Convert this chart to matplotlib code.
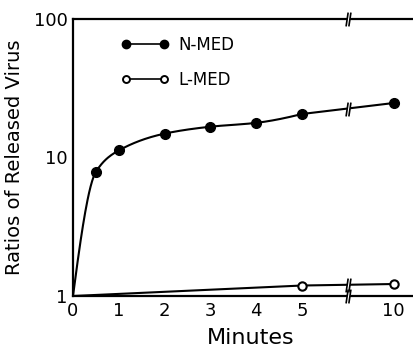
import numpy as np
import matplotlib
matplotlib.use('Agg')
import matplotlib.pyplot as plt
from matplotlib.path import Path
from matplotlib.lines import Line2D
from matplotlib.legend_handler import HandlerLine2D

# ---- data ----
nmed_minutes = [0.5, 1, 2, 3, 4, 5, 10]
nmed_values = [7.85, 11.2, 14.8, 16.6, 17.7, 20.5, 24.6]
lmed_minutes = [5, 10]
lmed_values = [1.19, 1.22]
start_minute = 0
start_value = 1
xtick_minutes = [0, 1, 2, 3, 4, 5, 10]
xtick_labels = ['0', '1', '2', '3', '4', '5', '10']
ytick_values = [1, 10, 100]
ytick_labels = ['1', '10', '100']
break_minute = 7.5  # axis break between 5 and 10 min


def pos(m):
    """Map minutes onto the broken x axis (5 -> 10 compressed to 2 units)."""
    m = np.asarray(m, dtype=float)
    return np.where(m <= 5, m, 5 + (m - 5) * 2 / 5)


def pchip(x, y, xn):
    x = np.asarray(x, float); y = np.asarray(y, float)
    h = np.diff(x); d = np.diff(y) / h
    n = len(x); m = np.zeros(n)
    for k in range(1, n - 1):
        if d[k - 1] * d[k] <= 0:
            m[k] = 0
        else:
            w1 = 2 * h[k] + h[k - 1]; w2 = h[k] + 2 * h[k - 1]
            m[k] = (w1 + w2) / (w1 / d[k - 1] + w2 / d[k])
    def end(h0, h1, d0, d1):
        v = ((2 * h0 + h1) * d0 - h0 * d1) / (h0 + h1)
        if np.sign(v) != np.sign(d0):
            v = 0
        elif np.sign(d0) != np.sign(d1) and abs(v) > abs(3 * d0):
            v = 3 * d0
        return v
    m[0] = end(h[0], h[1], d[0], d[1])
    m[-1] = end(h[-1], h[-2], d[-1], d[-2])
    out = np.empty_like(xn)
    for i, xv in enumerate(xn):
        k = min(np.searchsorted(x, xv, side='right') - 1, n - 2)
        k = max(k, 0)
        t = (xv - x[k]) / h[k]
        h00 = 2 * t**3 - 3 * t**2 + 1; h10 = t**3 - 2 * t**2 + t
        h01 = -2 * t**3 + 3 * t**2; h11 = t**3 - t**2
        out[i] = h00 * y[k] + h10 * h[k] * m[k] + h01 * y[k + 1] + h11 * h[k] * m[k + 1]
    return out


fig = plt.figure(figsize=(4.13, 3.56), dpi=100)
ax = fig.add_axes([73 / 413, 1 - 296 / 356, 1 - 73 / 413 + 0.002, (296 - 18.5) / 356])
ax.set_yscale('log')
ax.set_ylim(1, 100)
ax.set_xlim(0, (413 - 73) / 45.7)

lw = 1.5
# N-MED smooth curve 0..5 then straight to 10
xs = [start_minute] + [m for m in nmed_minutes if m <= 5]
ys = [start_value] + [v for m, v in zip(nmed_minutes, nmed_values) if m <= 5]
xf = np.linspace(xs[0], xs[-1], 300)
yf = 10 ** pchip(xs, np.log10(ys), xf)
xf = np.append(xf, pos(nmed_minutes[-1]))
yf = np.append(yf, nmed_values[-1])
ax.plot(xf, yf, color='black', lw=lw, zorder=3)
ax.plot(pos(nmed_minutes), nmed_values, 'o', color='black', ms=7, zorder=4)

# L-MED
lx = [start_minute] + lmed_minutes
ly = [start_value] + lmed_values
ax.plot(pos(lx), ly, color='black', lw=lw, zorder=3)
ax.plot(pos(lmed_minutes), lmed_values, 'o', mfc='white', mec='black', mew=1.5, ms=6, zorder=4)

# break marks
bx = float(pos(break_minute))
def interp_log(x0, y0, x1, y1, x):
    return 10 ** (np.log10(y0) + (np.log10(y1) - np.log10(y0)) * (x - x0) / (x1 - x0))
yb_n = interp_log(pos(5), nmed_values[-2], pos(10), nmed_values[-1], bx)
yb_l = interp_log(pos(5), lmed_values[0], pos(10), lmed_values[1], bx)
brk = Path([(-0.35, -1), (-0.05, 1), (0.05, -1), (0.35, 1)],
           [Path.MOVETO, Path.LINETO, Path.MOVETO, Path.LINETO])
gap = Path([(-0.3, -0.6), (0.02, -0.6), (0.3, 0.6), (-0.02, 0.6), (-0.3, -0.6)],
           [Path.MOVETO, Path.LINETO, Path.LINETO, Path.LINETO, Path.CLOSEPOLY])
for yb in [yb_n, yb_l, 100, 1]:
    ax.plot([bx], [yb], marker=gap, ms=8, mfc='white', mec='none', ls='none',
            clip_on=False, zorder=6)
    ax.plot([bx], [yb], marker=brk, ms=10, mec='black', mew=1.2, mfc='none', ls='none',
            clip_on=False, zorder=7)

# axes styling
for s in ['left', 'bottom', 'top']:
    ax.spines[s].set_linewidth(1.6)
ax.spines['right'].set_visible(False)
ax.set_xticks(pos(xtick_minutes))
ax.set_xticklabels(xtick_labels, fontsize=13)
ax.set_yticks(ytick_values)
ax.set_yticklabels(ytick_labels, fontsize=13)
ax.yaxis.set_minor_locator(matplotlib.ticker.NullLocator())
ax.tick_params(length=0, pad=4)
ax.set_xlabel('Minutes', fontsize=16)
ax.xaxis.set_label_coords((251 - 73) / 341, -0.115)
ax.set_ylabel('Ratios of Released Virus', fontsize=14, labelpad=7)

# legend
h1 = Line2D([], [], color='black', lw=1.2, marker='o', ms=6)
h2 = Line2D([], [], color='black', lw=1.2, marker='o', ms=5, mfc='white', mew=1.4)
ax.legend([h1, h2], ['N-MED', 'L-MED'], loc='upper left',
          bbox_to_anchor=(126 / 413, 1 - 36 / 356), bbox_transform=fig.transFigure,
          handler_map={Line2D: HandlerLine2D(marker_pad=0, numpoints=2)},
          frameon=False, numpoints=2, handlelength=2.3, handletextpad=0.85,
          labelspacing=1.0, borderpad=0, borderaxespad=0, fontsize=12)

fig.savefig('out.png', dpi=100)
